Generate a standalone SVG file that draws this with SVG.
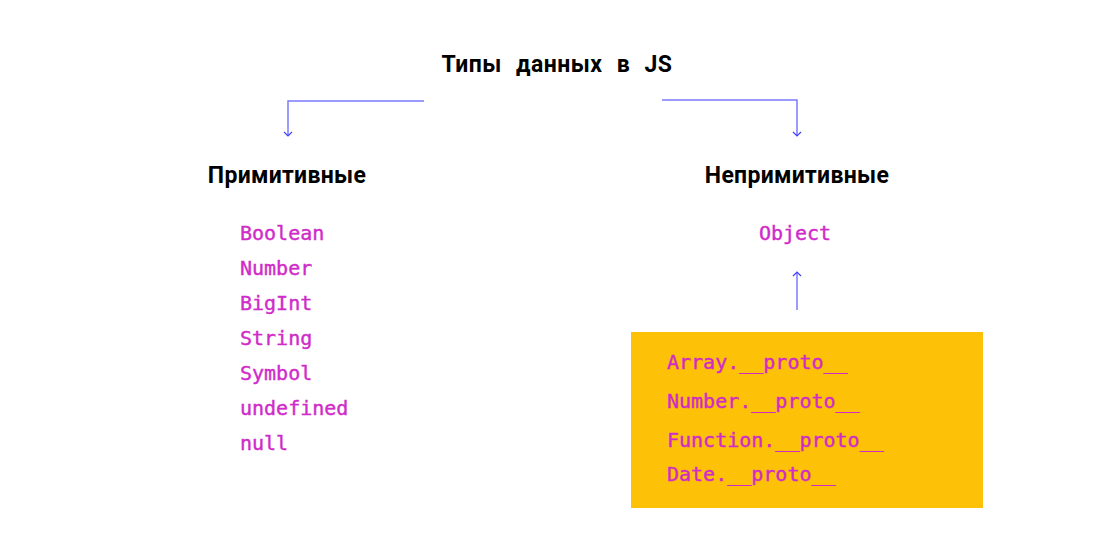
<svg xmlns="http://www.w3.org/2000/svg" width="1100" height="555" viewBox="0 0 1100 555">
<style>
.h{font-family:"Roboto","Liberation Sans",sans-serif;font-weight:bold;fill:#000}
.c{font-family:"DejaVu Sans Mono","Liberation Mono",monospace;font-size:20px;fill:#d02bc8;stroke:#d02bc8;stroke-width:0.4}
.ln{stroke:#7b7bff;stroke-width:1.5;fill:none}
</style>
<defs>
<marker id="ah" viewBox="0 0 10 10" refX="9" refY="5" markerWidth="10" markerHeight="10" markerUnits="userSpaceOnUse" orient="auto">
<path d="M5,1 L9,5 L5,9" fill="none" stroke="#4040ff" stroke-width="1.2"/>
</marker>
</defs>
<rect width="1100" height="555" fill="#fff"/>
<g id="title"><text class="h" x="557" y="72" font-size="23" letter-spacing="0.5" text-anchor="middle" word-spacing="8">Типы данных в JS</text></g>
<g id="connectors">
<path class="ln" d="M424,101 H288 V136" marker-end="url(#ah)"/>
<path class="ln" d="M662,100 H797 V136" marker-end="url(#ah)"/>
<path class="ln" d="M797,310 V272" marker-end="url(#ah)"/>
</g>
<g id="primitive">
<text class="h" x="287" y="183" font-size="23" letter-spacing="0.3" text-anchor="middle">Примитивные</text>
<text class="c" x="240" y="240">Boolean</text>
<text class="c" x="240" y="275">Number</text>
<text class="c" x="240" y="310">BigInt</text>
<text class="c" x="240" y="345">String</text>
<text class="c" x="240" y="380">Symbol</text>
<text class="c" x="240" y="415">undefined</text>
<text class="c" x="240" y="450">null</text>
</g>
<g id="nonprimitive">
<text class="h" x="797" y="183" font-size="23" letter-spacing="0.3" text-anchor="middle">Непримитивные</text>
<text class="c" x="795" y="240" text-anchor="middle">Object</text>
</g>
<g id="protos">
<rect x="631" y="332" width="352" height="176" fill="#fdc107"/>
<text class="c" x="667" y="369">Array.__proto__</text>
<text class="c" x="667" y="408">Number.__proto__</text>
<text class="c" x="667" y="447">Function.__proto__</text>
<text class="c" x="667" y="481">Date.__proto__</text>
</g>
</svg>
